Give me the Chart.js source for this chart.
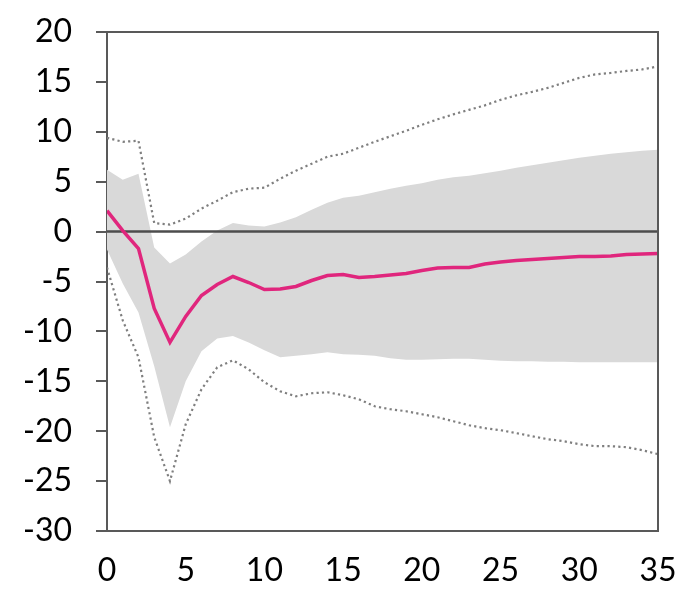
<!DOCTYPE html>
<html>
<head>
<meta charset="utf-8">
<script src="https://cdn.jsdelivr.net/npm/chart.js@4/dist/chart.umd.min.js"></script>
<style>
  html, body { margin: 0; padding: 0; background: #ffffff; }
  #wrap { width: 698px; height: 589px; }
</style>
</head>
<body>
<div id="wrap"><canvas id="c" width="698" height="589"></canvas></div>
<script>
// Horizons (x categories)
const horizons = [0,1,2,3,4,5,6,7,8,9,10,11,12,13,14,15,16,17,18,19,20,21,22,23,24,25,26,27,28,29,30,31,32,33,34,35];

// Median response
const median = [2.1,0.1,-1.7,-7.7,-11.1,-8.5,-6.4,-5.3,-4.5,-5.1,-5.8,-5.75,-5.5,-4.9,-4.4,-4.3,-4.6,-4.5,-4.35,-4.2,-3.9,-3.65,-3.6,-3.6,-3.25,-3.05,-2.9,-2.8,-2.7,-2.6,-2.5,-2.5,-2.45,-2.3,-2.25,-2.2];

// Inner band (shaded)
const bandUpper = [6.2,5.2,5.8,-1.6,-3.2,-2.3,-1.0,0.1,0.85,0.6,0.5,0.9,1.45,2.2,2.9,3.4,3.6,3.95,4.3,4.6,4.85,5.2,5.45,5.6,5.85,6.1,6.4,6.65,6.9,7.15,7.4,7.6,7.8,7.95,8.1,8.2];
const bandLower = [-1.8,-5.2,-8.1,-13.5,-19.6,-15.0,-12.0,-10.7,-10.45,-11.1,-11.9,-12.6,-12.45,-12.3,-12.1,-12.3,-12.35,-12.45,-12.7,-12.85,-12.85,-12.8,-12.75,-12.75,-12.85,-12.95,-13.0,-13.0,-13.05,-13.05,-13.1,-13.1,-13.1,-13.1,-13.1,-13.1];

// Outer band (dotted)
const outerUpper = [9.4,9.0,9.1,0.85,0.7,1.3,2.3,3.1,3.95,4.3,4.4,5.3,6.1,6.8,7.5,7.8,8.4,9.0,9.55,10.1,10.7,11.25,11.75,12.2,12.65,13.2,13.65,14.0,14.4,14.9,15.4,15.75,15.9,16.1,16.25,16.55];
const outerLower = [-3.6,-8.9,-12.6,-20.6,-25.0,-19.3,-15.8,-13.6,-12.9,-13.8,-15.1,-16.0,-16.5,-16.2,-16.1,-16.4,-16.8,-17.5,-17.8,-18.0,-18.3,-18.6,-19.0,-19.4,-19.7,-19.9,-20.2,-20.5,-20.8,-21.0,-21.3,-21.5,-21.5,-21.6,-21.9,-22.3];

// Reference line at zero
const zeroX = [0, 35];
const zeroY = [0, 0];

// Axis ticks
const xTicks = [0,5,10,15,20,25,30,35];
const yTicks = [-30,-25,-20,-15,-10,-5,0,5,10,15,20];

const pts = (xs, ys) => xs.map((x, i) => ({ x: x, y: ys[i] }));

const AXIS = '#595959';
const FAMILY = 'Lato, "Liberation Sans", sans-serif';

const boxPlugin = {
  id: 'box',
  afterDraw(chart) {
    const { ctx, chartArea: a } = chart;
    ctx.save();
    ctx.strokeStyle = AXIS;
    ctx.lineWidth = 2;
    ctx.beginPath();
    ctx.moveTo(a.left, a.top);
    ctx.lineTo(a.right, a.top);
    ctx.lineTo(a.right, a.bottom);
    ctx.stroke();
    ctx.restore();
  }
};

new Chart(document.getElementById('c'), {
  type: 'line',
  data: {
    datasets: [
      { label: 'median', data: pts(horizons, median), borderColor: '#E0267D', borderWidth: 3.5, pointRadius: 0, tension: 0, fill: false, order: 0 },
      { label: 'zero', data: pts(zeroX, zeroY), borderColor: '#4D4D4D', borderWidth: 2.5, pointRadius: 0, fill: false, order: 1 },
      { label: 'outerUpper', data: pts(horizons, outerUpper), borderColor: '#7F7F7F', borderWidth: 2.2, borderDash: [2.2, 3.2], pointRadius: 0, tension: 0, fill: false, order: 2 },
      { label: 'outerLower', data: pts(horizons, outerLower), borderColor: '#7F7F7F', borderWidth: 2.2, borderDash: [2.2, 3.2], pointRadius: 0, tension: 0, fill: false, order: 2 },
      { label: 'bandUpper', data: pts(horizons, bandUpper), borderWidth: 0, borderColor: 'rgba(0,0,0,0)', backgroundColor: '#D9D9D9', pointRadius: 0, tension: 0, fill: '+1', order: 3 },
      { label: 'bandLower', data: pts(horizons, bandLower), borderWidth: 0, borderColor: 'rgba(0,0,0,0)', pointRadius: 0, tension: 0, fill: false, order: 4 }
    ]
  },
  options: {
    responsive: false,
    animation: false,
    devicePixelRatio: 1,
    layout: { padding: { top: 32, right: 40, left: 0, bottom: 0 } },
    plugins: { legend: { display: false }, tooltip: { enabled: false } },
    scales: {
      x: {
        type: 'linear', min: 0, max: 35,
        afterBuildTicks: (s) => { s.ticks = xTicks.map(v => ({ value: v })); },
        afterFit: (s) => { s.height = 58; },
        grid: { display: true, drawOnChartArea: false, drawTicks: false, color: AXIS },
        border: { display: true, color: AXIS, width: 2 },
        ticks: { color: '#000', font: { family: FAMILY, size: 32 }, padding: 20, maxRotation: 0, autoSkip: false }
      },
      y: {
        type: 'linear', min: -30, max: 20,
        afterBuildTicks: (s) => { s.ticks = yTicks.map(v => ({ value: v })); },
        afterFit: (s) => { s.width = 107; },
        grid: { display: true, drawOnChartArea: false, drawTicks: true, tickLength: 11, color: AXIS, lineWidth: 2 },
        border: { display: true, color: AXIS, width: 2 },
        ticks: { color: '#000', font: { family: FAMILY, size: 32, lineHeight: 0.4 }, padding: 24, autoSkip: false }
      }
    }
  },
  plugins: [boxPlugin]
});
</script>
</body>
</html>
